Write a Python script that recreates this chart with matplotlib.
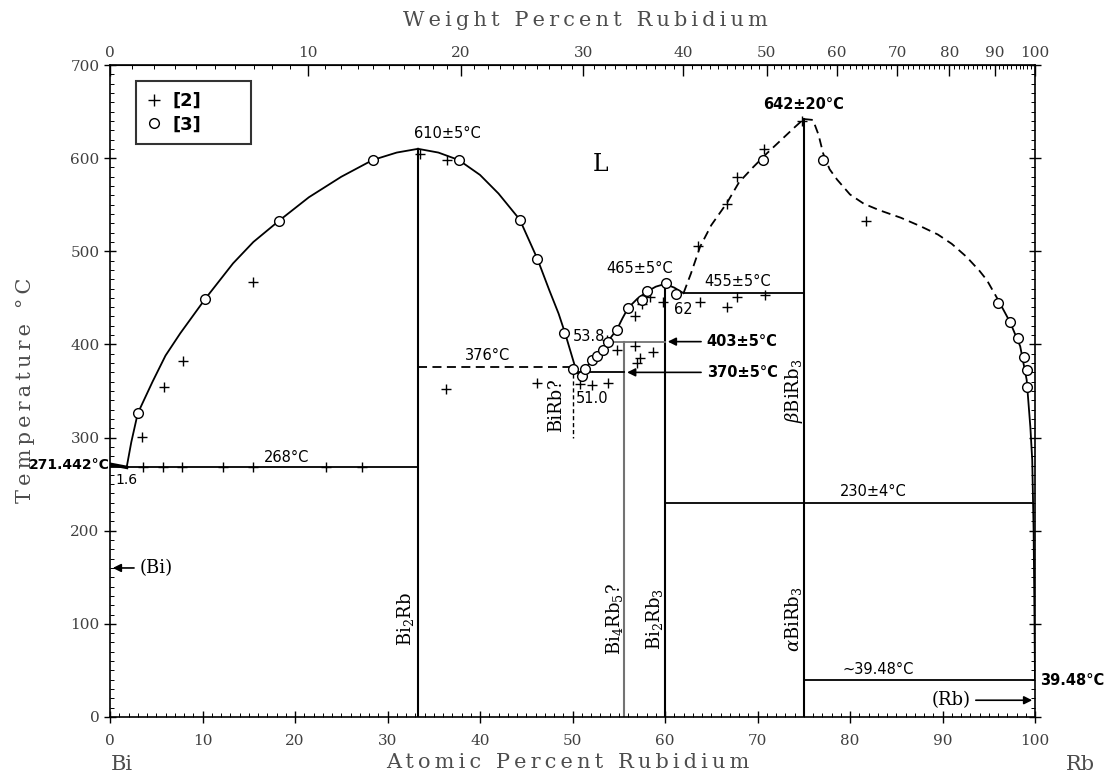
import numpy as np
import matplotlib.pyplot as plt
from matplotlib.lines import Line2D

plt.rcParams['mathtext.fontset'] = 'dejavuserif'

# ---- data (at.% Rb, deg C) ----
liq_left_x = [1.8, 2.3, 3.0, 4.6, 6.0, 7.6, 10.3, 13.3, 15.5, 18.3, 21.5, 25.0, 28.4, 31.0, 33.3]
liq_left_t = [268, 295, 326, 360, 388, 412, 449, 487, 510, 533, 558, 580, 598, 606, 610]

liq_mid_x = [33.3, 35.5, 37.7, 40.0, 42.0, 44.3, 46.2, 47.5, 48.5, 49.2, 49.8, 50.4]
liq_mid_t = [610, 606, 598, 582, 562, 534, 492, 458, 433, 412, 392, 372]

liq_rise_x = [50.4, 51.0, 51.4, 52.1, 52.6, 53.3, 53.8, 54.8, 55.4, 56.0, 57.0, 58.1, 59.0, 60.0, 61.0, 62.0]
liq_rise_t = [370, 367, 374, 383, 388, 394, 403, 416, 428, 439, 449, 457, 462, 465, 461, 455]

liq_dash1_x = [62.0, 62.8, 63.8, 65.0, 66.7, 68.0, 69.5, 71.0, 72.5, 74.0, 75.0]
liq_dash1_t = [455, 476, 505, 528, 552, 574, 590, 605, 619, 633, 642]

liq_dash2_x = [75.0, 76.0, 76.6, 77.1, 77.8, 78.6, 80.0, 81.5, 83.2, 85.5, 87.6, 89.5, 91.0, 92.6, 94.0, 94.8, 96.0]
liq_dash2_t = [642, 641, 625, 605, 588, 577, 561, 551, 544, 536, 527, 518, 508, 494, 479, 469, 448]

liq_right_x = [96.0, 97.3, 98.4, 99.1, 99.5, 99.7, 99.85, 99.95, 100.0]
liq_right_t = [448, 424, 398, 362, 311, 276, 200, 100, 39.5]

plus_x = [3.5, 5.8, 7.9, 15.5, 3.6, 5.7, 7.8, 12.2, 15.5, 23.4, 27.2, 33.5, 36.4, 36.3, 46.2,
          50.8, 52.1, 53.8, 53.7, 54.8, 56.8, 58.7, 57.3, 57.0, 56.8, 57.5, 58.4, 59.8, 63.8,
          66.7, 67.8, 70.8, 63.6, 66.7, 67.8, 70.7, 74.8, 81.7]
plus_t = [301, 354, 382, 467, 268, 268, 268, 268, 268, 268, 268, 604, 598, 352, 359,
          357, 356, 359, 405, 394, 398, 392, 385, 380, 430, 443, 451, 446, 446,
          440, 451, 453, 506, 551, 580, 610, 640, 533]

circ_x = [3.0, 10.3, 18.3, 28.4, 37.7, 44.3, 46.2, 49.1, 50.1, 51.0, 51.4, 52.1, 52.6, 53.3,
          53.8, 54.8, 56.0, 57.5, 58.1, 60.1, 61.2, 70.6, 77.1, 96.0, 97.3, 98.2, 98.8, 99.1, 99.1]
circ_t = [326, 449, 533, 598, 598, 534, 492, 412, 374, 366, 374, 383, 388, 394,
          403, 416, 439, 448, 457, 466, 454, 598, 598, 444, 424, 407, 387, 373, 354]

compounds = [33.3, 55.6, 60.0, 75.0]
compound_top = [610, 403, 465, 642]


def at2wt(x):
    x = np.asarray(x, float)
    with np.errstate(divide='ignore', invalid='ignore'):
        return 100 * x * 85.468 / (x * 85.468 + (100 - x) * 208.98)


def wt2at(w):
    w = np.asarray(w, float)
    with np.errstate(divide='ignore', invalid='ignore'):
        a = w / 85.468
        b = (100 - w) / 208.98
        return 100 * a / (a + b)


def spaced(s):
    # wide letter spacing like the typewritten original
    return '\u2009'.join(s)


fig = plt.figure(figsize=(11.17, 7.78), dpi=100)
ax = fig.add_axes([110 / 1117, 61 / 778, 925 / 1117, 652 / 778])
ax.set_xlim(0, 100)
ax.set_ylim(0, 700)

lw = 1.3
ax.plot(liq_left_x, liq_left_t, 'k-', lw=lw)
ax.plot(liq_mid_x, liq_mid_t, 'k-', lw=lw)
ax.plot(liq_rise_x, liq_rise_t, 'k-', lw=lw)
ax.plot(liq_dash1_x, liq_dash1_t, 'k--', lw=lw, dashes=(5, 3))
ax.plot(liq_dash2_x, liq_dash2_t, 'k--', lw=lw, dashes=(5, 3))
ax.plot(liq_right_x, liq_right_t, 'k-', lw=lw)

# compounds
for x, top in zip(compounds, compound_top):
    c = '0.45' if x == 55.6 else 'k'
    ax.plot([x, x], [0, top], color=c, lw=1.5)
ax.plot([50.1, 50.1], [376, 300], 'k--', lw=1.0, dashes=(3, 2))

# invariant lines
ax.plot([0, 1.8], [271.4, 268], 'k-', lw=2.5)
ax.plot([0, 33.3], [268, 268], 'k-', lw=lw)
ax.plot([33.3, 50.1], [376, 376], 'k--', lw=lw, dashes=(5, 3))
ax.plot([50.6, 55.6], [370, 370], 'k-', lw=lw)
ax.plot([53.8, 60], [403, 403], color='0.45', lw=lw)
ax.plot([62, 75], [455, 455], 'k-', lw=lw)
ax.plot([60, 99.7], [230, 230], 'k-', lw=lw)
ax.plot([75, 100], [39.48, 39.48], 'k-', lw=lw)

# markers
ax.plot(plus_x, plus_t, 'k+', ms=7, mew=1.0, ls='none')
ax.plot(circ_x, circ_t, 'o', mfc='white', mec='k', ms=7, mew=1.0, ls='none')

arr = dict(arrowstyle='-|>', color='k', lw=1.2, mutation_scale=12)
ax.annotate('403±5°C', xy=(60, 403), xytext=(64.5, 403), fontsize=10.5, fontweight='bold',
            va='center', ha='left', arrowprops=arr)
ax.annotate('370±5°C', xy=(55.6, 370), xytext=(64.5, 370), fontsize=10.5, fontweight='bold',
            va='center', ha='left', arrowprops=arr)
ax.annotate('(Bi)', xy=(0, 160), xytext=(3.2, 160), fontsize=13, family='DejaVu Serif',
            va='center', ha='left', arrowprops=arr)
ax.annotate('(Rb)', xy=(100, 18), xytext=(93.0, 18), fontsize=13, family='DejaVu Serif',
            va='center', ha='right', arrowprops=arr)

tk = dict(fontsize=10.5, color='k')
ax.text(36.5, 618, '610±5°C', ha='center', va='bottom', **tk)
ax.text(75.0, 650, '642±20°C', ha='center', va='bottom', fontweight='bold', **tk)
ax.text(57.3, 473, '465±5°C', ha='center', va='bottom', **tk)
ax.text(67.8, 460, '455±5°C', ha='center', va='bottom', **tk)
ax.text(61.0, 438, '62', ha='left', va='center', **tk)
ax.text(50.0, 408, '53.8', ha='left', va='center', **tk)
ax.text(50.4, 342, '51.0', ha='left', va='center', **tk)
ax.text(40.8, 380, '376°C', ha='center', va='bottom', **tk)
ax.text(19.1, 271, '268°C', ha='center', va='bottom', **tk)
ax.text(0.6, 262, '1.6', ha='left', va='top', fontsize=10)
ax.text(0.0, 271, '271.442°C', ha='right', va='center', fontsize=10, fontweight='bold')
ax.text(82.5, 234, '230±4°C', ha='center', va='bottom', **tk)
ax.text(83.0, 43, '~39.48°C', ha='center', va='bottom', **tk)
ax.text(100.5, 39.48, '39.48°C', ha='left', va='center', fontsize=10.5, fontweight='bold')
ax.text(53.0, 593, 'L', ha='center', va='center', fontsize=17, family='DejaVu Serif')

sf = dict(rotation=90, ha='center', va='center', fontsize=13, family='DejaVu Serif')
ax.text(31.9, 105, r'Bi$_2$Rb', **sf)
ax.text(54.5, 105, r'Bi$_4$Rb$_5$?', **sf)
ax.text(58.9, 105, r'Bi$_2$Rb$_3$', **sf)
ax.text(73.9, 105, r'$\alpha$BiRb$_3$', **sf)
ax.text(73.9, 350, r'$\beta$BiRb$_3$', **sf)
ax.text(48.2, 335, 'BiRb?', **sf)

# axes styling
for s in ax.spines.values():
    s.set_linewidth(1.2)
ax.set_xticks(np.arange(0, 101, 10))
ax.set_xticks(np.arange(0, 101, 1), minor=True)
ax.set_yticks(np.arange(0, 701, 100))
ax.set_yticks(np.arange(0, 701, 10), minor=True)
ax.tick_params(which='major', direction='inout', length=8, width=1, labelsize=11,
               right=True, labelfontfamily='DejaVu Serif', labelcolor='0.25')
ax.tick_params(which='minor', direction='in', length=3, width=0.7, right=True)
ax.tick_params(axis='x', pad=8)

sec = ax.secondary_xaxis('top', functions=(at2wt, wt2at))
sec.set_xticks(np.arange(0, 101, 10))
sec.set_xticks(np.arange(0, 100, 1), minor=True)
sec.tick_params(which='major', direction='in', length=8, width=1, labelsize=11,
                labelfontfamily='DejaVu Serif', labelcolor='0.25')
sec.tick_params(which='minor', direction='in', length=3, width=0.7)

# legend
handles = [Line2D([], [], marker='+', color='k', ls='none', ms=9, mew=1.0),
           Line2D([], [], marker='o', mfc='white', mec='k', ls='none', ms=7, mew=1.0)]
leg = ax.legend(handles, ['[2]', '[3]'], loc='upper left', mode='expand',
                bbox_to_anchor=(0.028, 0.88, 0.124, 0.095), borderaxespad=0,
                frameon=True, fancybox=False,
                edgecolor='k', handlelength=0.8, handletextpad=0.6,
                borderpad=0.6, labelspacing=0.3, prop={'weight': 'bold', 'size': 13})
leg.get_frame().set_linewidth(1.5)

lab = dict(fontsize=15, family='DejaVu Serif', color='0.3')
fig.text(585 / 1117, 1 - 20 / 778, spaced('Weight Percent Rubidium'), ha='center', va='center', **lab)
fig.text(568 / 1117, 1 - 762 / 778, spaced('Atomic Percent Rubidium'), ha='center', va='center', **lab)
fig.text(26 / 1117, 1 - 390 / 778, spaced('Temperature °C'), rotation=90, ha='center', va='center', **lab)
fig.text(122 / 1117, 1 - 765 / 778, 'Bi', ha='center', va='center', **lab)
fig.text(1080 / 1117, 1 - 765 / 778, 'Rb', ha='center', va='center', **lab)

fig.savefig('out.png', dpi=100)
